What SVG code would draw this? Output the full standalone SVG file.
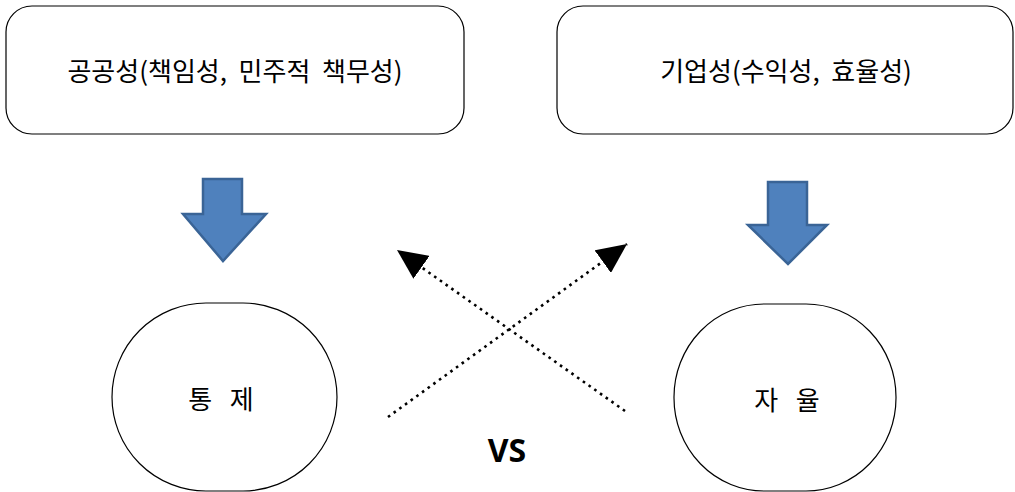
<svg xmlns="http://www.w3.org/2000/svg" width="1015" height="492" viewBox="0 0 1015 492">
  <style>
    .box { fill: #ffffff; stroke: #000000; stroke-width: 1.2; }
    .oval { fill: #ffffff; stroke: #000000; stroke-width: 1.2; }
    .label { font-family: "Noto Sans CJK KR", "Noto Sans", sans-serif; font-size: 26px; fill: #000000; text-anchor: middle; }
    .down { fill: #4f81bd; stroke: #3a6496; stroke-width: 2.5; stroke-linejoin: miter; }
    .dots { fill: none; stroke: #000000; stroke-width: 2.6; stroke-dasharray: 2.6 4.4; }
    .vs { font-family: "Noto Sans", "Open Sans", sans-serif; font-weight: bold; font-size: 32px; fill: #000000; text-anchor: middle; }
  </style>
  <defs>
    <marker id="tri" viewBox="0 0 30 28" refX="30" refY="14" markerWidth="30" markerHeight="28" markerUnits="userSpaceOnUse" orient="auto">
      <path d="M0,0 L30,14 L0,28 Z" fill="#000000"/>
    </marker>
  </defs>
  <rect width="1015" height="492" fill="#ffffff"/>

  <!-- top boxes -->
  <g id="public">
    <rect class="box" x="6" y="6" width="458" height="128" rx="26" ry="26"/>
    <text class="label" x="235" y="81" xml:space="preserve">공공성(책임성,  민주적  책무성)</text>
  </g>
  <g id="business">
    <rect class="box" x="557" y="6" width="456" height="128" rx="26" ry="26"/>
    <text class="label" x="786" y="81" xml:space="preserve">기업성(수익성,  효율성)</text>
  </g>

  <!-- block arrows -->
  <g id="arrow-left">
    <path class="down" d="M203,179 L242,179 L242,214 L266,214 L223,261 L183,214 L203,214 Z"/>
  </g>
  <g id="arrow-right">
    <path class="down" d="M768,182 L807,182 L807,225 L827,225 L788,264 L748,225 L768,225 Z"/>
  </g>

  <!-- ovals -->
  <g id="control">
    <rect class="oval" x="112" y="303" width="225" height="188" rx="94" ry="94"/>
    <text class="label" x="221" y="409" xml:space="preserve">통   제</text>
  </g>
  <g id="autonomy">
    <rect class="oval" x="674" y="304" width="222" height="187" rx="90" ry="93"/>
    <text class="label" x="787" y="410" xml:space="preserve">자   율</text>
  </g>

  <!-- crossing dotted connectors -->
  <g id="connectors">
    <path class="dots" d="M388,417 L627,244" marker-end="url(#tri)"/>
    <path class="dots" d="M625,411 L397,250" marker-end="url(#tri)"/>
  </g>

  <text class="vs" x="507" y="462">VS</text>
</svg>
